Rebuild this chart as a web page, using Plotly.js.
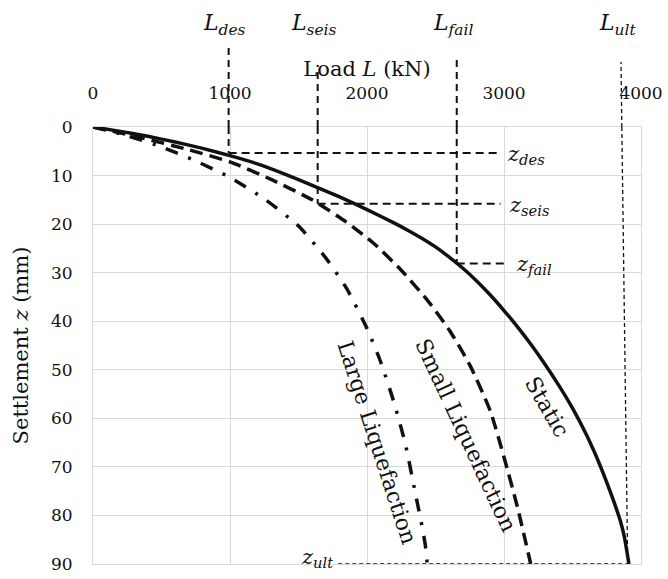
<!DOCTYPE html>
<html>
<head>
<meta charset="utf-8">
<script src="https://cdn.plot.ly/plotly-3.0.1.min.js"></script>
<style>
  html, body { margin: 0; padding: 0; background: #ffffff; }
  #chart { width: 668px; height: 579px; }
</style>
</head>
<body>
<div id="chart"></div>
<script>
// Load–settlement curves of the pile (load in kN, settlement in mm)
const staticLoad = [0, 200, 400, 600, 800, 1000, 1200, 1400, 1600, 1800, 2000, 2200, 2300, 2400, 2500, 2600, 2700, 2800, 2900, 3000, 3100, 3200, 3300, 3400, 3500, 3600, 3700, 3750, 3800, 3850, 3880, 3912];
const staticZ    = [0, 0.9, 1.9, 3.1, 4.4, 5.9, 7.6, 9.7, 12.0, 14.4, 17.0, 19.8, 21.3, 22.9, 24.7, 26.8, 29.1, 31.7, 34.6, 37.8, 41.2, 44.9, 48.9, 53.2, 57.9, 63.3, 69.6, 73.2, 77.0, 81.2, 84.6, 90.0];

const smallLoad = [0, 350, 700, 1000, 1300, 1600, 1850, 2050, 2250, 2450, 2600, 2750, 2900, 3000, 3100, 3195];
const smallZ    = [0, 2.2, 4.7, 7.2, 10.8, 15.0, 19.6, 24.0, 29.5, 36.0, 41.8, 49.0, 58.5, 68.0, 78.5, 90.0];

const largeLoad = [0, 250, 500, 750, 1000, 1250, 1500, 1700, 1850, 2000, 2100, 2200, 2280, 2350, 2400, 2425, 2440];
const largeZ    = [0, 1.8, 4.1, 7.0, 10.4, 14.8, 20.4, 27.0, 33.2, 41.5, 48.4, 57.0, 65.3, 75.0, 82.0, 86.0, 90.0];

// Characteristic loads and the settlements they produce
const refNames = ['des', 'seis', 'fail', 'ult'];
const refLoads = [990, 1640, 2655, 3903];
const refZ     = [5.35, 15.8, 28.1, 90];

// Curve captions
const curveNames = ['Static', 'Small Liquefaction', 'Large Liquefaction'];

const FONT = 'DejaVu Serif';
const INK = '#111111';

// guide-line geometry
const guideTopPaper = [1.181, 1.142, 1.158, 1.149]; // top of each load guide, above the plot
const zGuideEnd = [2960, 2975, 3030];               // right end of the settlement guides (kN)
const ultTopLoad = 3860;                            // the ultimate-load guide leans slightly
const ultAboveLoad = 3854;
const zUltStart = 1790;

const guideDash = '7px,5px';
const zDash = '8px,5px';
const fineDash = '4px,3px';

const traces = [];

traces.push({
  x: staticLoad, y: staticZ, type: 'scatter', mode: 'lines', name: curveNames[0],
  line: { color: INK, width: 3.5, shape: 'spline', smoothing: 0.5 }
});
traces.push({
  x: smallLoad, y: smallZ, type: 'scatter', mode: 'lines', name: curveNames[1],
  line: { color: INK, width: 3.5, dash: '13px,7px', shape: 'spline', smoothing: 0.6 }
});
traces.push({
  x: largeLoad, y: largeZ, type: 'scatter', mode: 'lines', name: curveNames[2],
  line: { color: INK, width: 3.5, dash: '13px,11px,3px,11px', shape: 'spline', smoothing: 0.6 }
});

const shapes = [];

// load guides (des, seis, fail): inside the plot down to the matching settlement,
// continued above the plot up to their labels
for (let i = 0; i < 3; i++) {
  traces.push({
    x: [refLoads[i], refLoads[i]], y: [0, refZ[i]],
    type: 'scatter', mode: 'lines', hoverinfo: 'skip',
    line: { color: INK, width: 2, dash: guideDash }
  });
  shapes.push({
    type: 'line', xref: 'x', yref: 'paper',
    x0: refLoads[i], x1: refLoads[i], y0: 1, y1: guideTopPaper[i],
    line: { color: INK, width: 2, dash: guideDash }
  });
  // horizontal settlement guides
  traces.push({
    x: [refLoads[i], zGuideEnd[i]], y: [refZ[i], refZ[i]],
    type: 'scatter', mode: 'lines', hoverinfo: 'skip',
    line: { color: INK, width: 2, dash: zDash }
  });
}
// ultimate load: fine dotted guides
traces.push({
  x: [ultTopLoad, refLoads[3]], y: [0, refZ[3]],
  type: 'scatter', mode: 'lines', cliponaxis: false, hoverinfo: 'skip',
  line: { color: INK, width: 1.3, dash: fineDash }
});
shapes.push({
  type: 'line', xref: 'x', yref: 'paper',
  x0: ultTopLoad, x1: ultAboveLoad, y0: 1, y1: guideTopPaper[3],
  line: { color: INK, width: 1.3, dash: fineDash }
});
traces.push({
  x: [zUltStart, refLoads[3]], y: [refZ[3], refZ[3]],
  type: 'scatter', mode: 'lines', cliponaxis: false, hoverinfo: 'skip',
  line: { color: INK, width: 1.3, dash: fineDash }
});

const annotations = [];

// L labels above the chart
refNames.forEach((n, i) => {
  annotations.push({
    xref: 'x', yref: 'paper', x: i === 3 ? ultAboveLoad : refLoads[i], y: 1.235,
    xanchor: 'center', yanchor: 'middle', xshift: -4,
    text: '<i>L</i><sub><i>' + n + '</i></sub>', showarrow: false,
    font: { family: FONT, size: 22, color: INK }
  });
});

// z labels at the end of the settlement guides
for (let i = 0; i < 3; i++) {
  annotations.push({
    xref: 'x', yref: 'y', x: zGuideEnd[i], y: refZ[i],
    xanchor: 'left', yanchor: 'middle', xshift: 6, yshift: -2,
    text: '<i>z</i><sub><i>' + refNames[i] + '</i></sub>', showarrow: false,
    font: { family: FONT, size: 21, color: INK }
  });
}
annotations.push({
  xref: 'x', yref: 'y', x: zUltStart, y: refZ[3],
  xanchor: 'right', yanchor: 'middle', xshift: -3, yshift: 6,
  text: '<i>z</i><sub><i>ult</i></sub>', showarrow: false,
  font: { family: FONT, size: 21, color: INK }
});

// rotated curve captions
const captionPos = [[3314, 57.5, 60], [2723, 63.5, 65], [2073, 65.0, 72]];
curveNames.forEach((n, i) => {
  annotations.push({
    xref: 'x', yref: 'y', x: captionPos[i][0], y: captionPos[i][1],
    textangle: captionPos[i][2], text: n, showarrow: false,
    font: { family: FONT, size: 22, color: INK }
  });
});

const axisCommon = {
  showgrid: true, gridcolor: '#d9d9d9', gridwidth: 1,
  showline: true, linecolor: '#d9d9d9', linewidth: 1, mirror: true,
  zeroline: false, ticks: '',
  tickfont: { family: FONT, size: 17, color: INK }
};

const layout = {
  width: 668, height: 579,
  margin: { l: 93, r: 27, t: 127, b: 15 },
  paper_bgcolor: '#ffffff', plot_bgcolor: '#ffffff',
  showlegend: false,
  xaxis: Object.assign({}, axisCommon, {
    side: 'top', range: [0, 4000], tick0: 0, dtick: 1000,
    ticklabelstandoff: 20,
    title: { text: 'Load <i>L</i> (kN)', font: { family: FONT, size: 21, color: INK }, standoff: 0 }
  }),
  yaxis: Object.assign({}, axisCommon, {
    range: [90, 0], tick0: 0, dtick: 10,
    ticklabelstandoff: 16,
    title: { text: 'Settlement <i>z</i> (mm)', font: { family: FONT, size: 21, color: INK }, standoff: 16 }
  }),
  shapes: shapes,
  annotations: annotations
};

Plotly.newPlot('chart', traces, layout, { staticPlot: true, displayModeBar: false });
</script>
</body>
</html>
